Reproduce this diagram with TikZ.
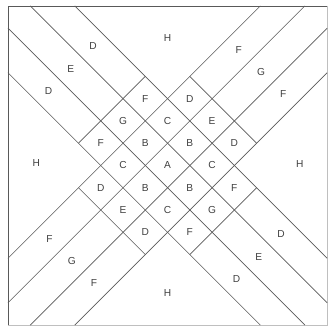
\documentclass[tikz,border=0pt]{standalone}
\usepackage{fontspec}
\setmainfont{Liberation Sans}
\usepackage{tikz}

\begin{document}
\begin{tikzpicture}[
  every node/.style={
    inner sep=0pt, text=black!75,
    font=\fontsize{13}{15}\selectfont
  },
  seam/.style={draw=black!65, line width=0.9pt}
]

\useasboundingbox (-7.528,-7.213) rectangle (7.258,7.438);

\draw[seam] (-7.17,-7.17) -- (-7.17,7.17) -- (7.17,7.17);
\draw[seam, draw=black!25] (7.17,7.17) -- (7.17,-7.17) -- (-7.17,-7.17);

\draw[seam] (-6.17,7.17) -- (7.17,-6.17);
\draw[seam] (-4.17,7.17) -- (7.17,-4.17);
\draw[seam] (-7.17,6.17) -- (6.17,-7.17);
\draw[seam] (-7.17,4.17) -- (4.17,-7.17);
\draw[seam] (-6.17,-7.17) -- (7.17,6.17);
\draw[seam] (-4.17,-7.17) -- (7.17,4.17);
\draw[seam] (-7.17,-6.17) -- (6.17,7.17);
\draw[seam] (-7.17,-4.17) -- (4.17,7.17);

\draw[seam] (1,4) -- (4,1);
\draw[seam] (-4,-1) -- (-1,-4);
\draw[seam] (1,-4) -- (4,-1);
\draw[seam] (-4,1) -- (-1,4);

\node (a) at (0,0) {A};

\node (b1) at (-1,1) {B};
\node (b2) at (1,1) {B};
\node (b3) at (-1,-1) {B};
\node (b4) at (1,-1) {B};

\node (c1) at (0,2) {C};
\node (c2) at (2,0) {C};
\node (c3) at (-2,0) {C};
\node (c4) at (0,-2) {C};

\node (d1) at (1,3) {D};
\node (d2) at (3,1) {D};
\node (d3) at (-3,-1) {D};
\node (d4) at (-1,-3) {D};

\node (e1) at (2,2) {E};
\node (e2) at (-2,-2) {E};

\node (f1) at (-1,3) {F};
\node (f2) at (-3,1) {F};
\node (f3) at (3,-1) {F};
\node (f4) at (1,-3) {F};

\node (g1) at (-2,2) {G};
\node (g2) at (2,-2) {G};

\node (nwD1) at (-3.35,5.35) {D};
\node (nwE) at (-4.35,4.35) {E};
\node (nwD2) at (-5.35,3.35) {D};

\node (neF1) at (3.2,5.2) {F};
\node (neG) at (4.2,4.2) {G};
\node (neF2) at (5.2,3.2) {F};

\node (swF1) at (-5.3,-3.3) {F};
\node (swG) at (-4.3,-4.3) {G};
\node (swF2) at (-3.3,-5.3) {F};

\node (seD1) at (5.1,-3.1) {D};
\node (seE) at (4.1,-4.1) {E};
\node (seD2) at (3.1,-5.1) {D};

\node (hTop) at (0,5.75) {H};
\node (hLeft) at (-5.9,0.1) {H};
\node (hRight) at (5.95,0.05) {H};
\node (hBottom) at (0,-5.75) {H};

\end{tikzpicture}
\end{document}
